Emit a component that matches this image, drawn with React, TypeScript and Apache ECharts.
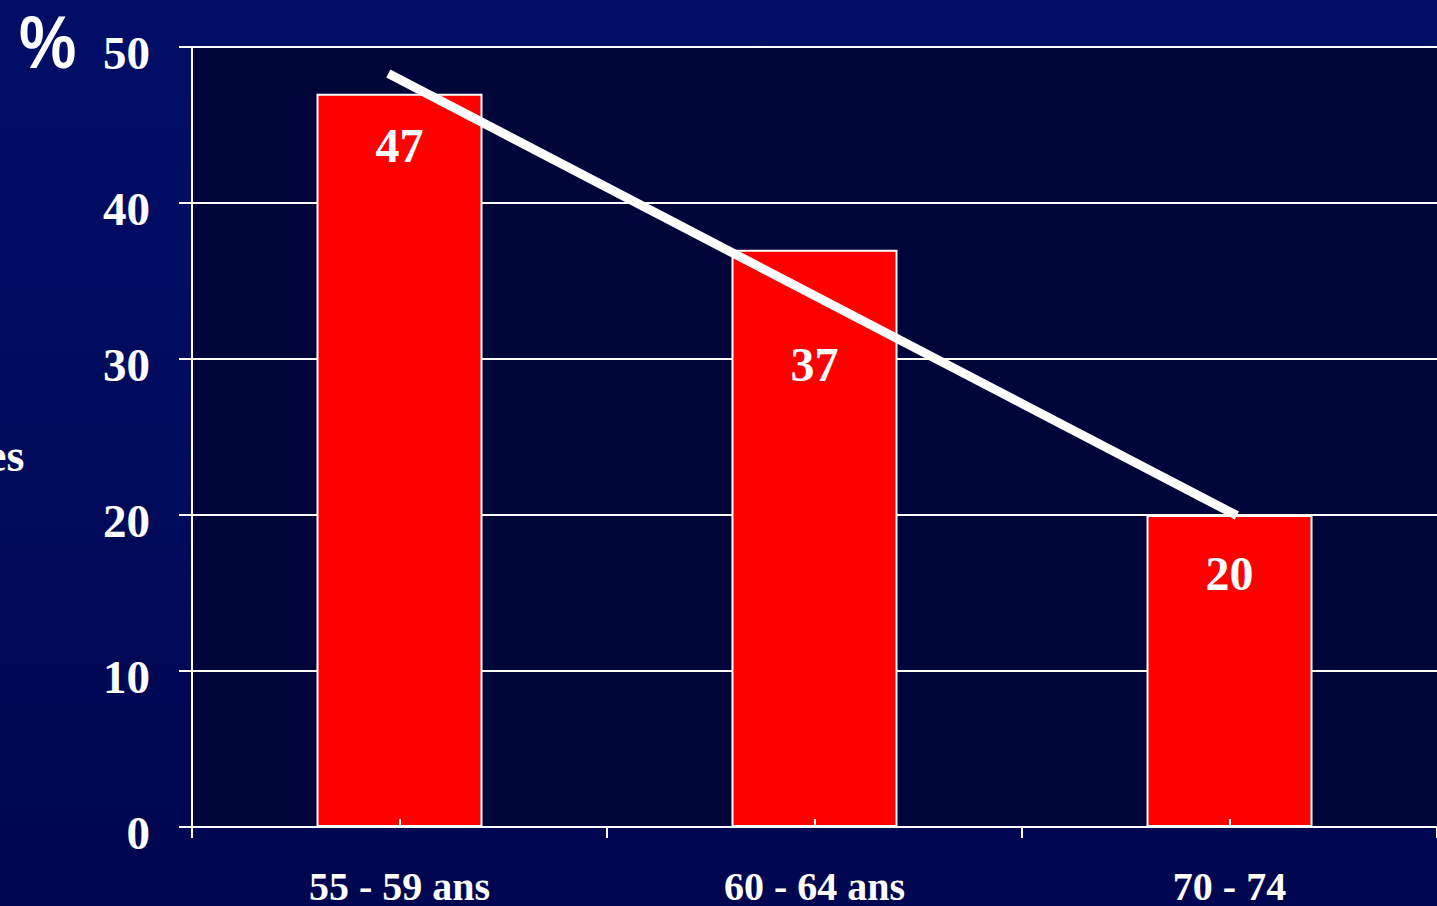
import React, { useEffect, useRef } from "react";
import * as echarts from "echarts";

// Age groups and share (%) per group
const categories = ["55 - 59 ans", "60 - 64 ans", "70 - 74"];
const values = [47, 37, 20];
// Distance of each value label below the bar top (px)
const labelOffsets = [52, 115, 58];
// Trend line end points [category position, %]
const trendPoints: [number, number][] = [
  [-0.027, 48.3],
  [2.018, 20.0],
];
const yTicks = { min: 0, max: 50, interval: 10 };

const SERIF = "'Liberation Serif', 'Times New Roman', serif";
const PLOT = { left: 192, top: 47, width: 1246, height: 781 };

export default function App() {
  const ref = useRef<HTMLDivElement>(null);

  useEffect(() => {
    if (!ref.current) return;
    const chart = echarts.init(ref.current, null, { renderer: "svg" });
    chart.setOption({
      animation: false,
      backgroundColor: "transparent",
      grid: [
        {
          ...PLOT,
          show: true,
          backgroundColor: "#000539",
          borderWidth: 0,
        },
        // overlay grid: centre ticks and the trend line
        { ...PLOT, show: false },
      ],
      graphic: [
        {
          type: "text",
          x: 19,
          y: 42,
          scaleX: 0.86,
          style: {
            text: "%",
            fill: "#ffffff",
            font: "bold 75px 'Liberation Sans', Arial, sans-serif",
            align: "left",
            verticalAlign: "middle",
          },
        },
        {
          type: "text",
          x: -14,
          y: 455,
          style: {
            text: "es",
            fill: "#ffffff",
            font: `bold 46px ${SERIF}`,
            align: "left",
            verticalAlign: "middle",
          },
        },
      ],
      xAxis: [
        {
          type: "category",
          gridIndex: 0,
          data: categories,
          position: "bottom",
          axisLine: { lineStyle: { color: "#ffffff", width: 2 } },
          axisTick: {
            show: true,
            alignWithLabel: false,
            length: 11,
            lineStyle: { color: "#ffffff", width: 2 },
          },
          axisLabel: {
            color: "#ffffff",
            fontFamily: SERIF,
            fontWeight: "bold",
            fontSize: 40,
            lineHeight: 36,
            margin: 41,
          },
          splitLine: { show: false },
        },
        {
          type: "category",
          gridIndex: 1,
          data: categories,
          position: "bottom",
          axisLine: { show: false },
          axisTick: {
            show: true,
            inside: true,
            alignWithLabel: true,
            length: 9,
            lineStyle: { color: "#ffffff", width: 2 },
          },
          axisLabel: { show: false },
          splitLine: { show: false },
          z: 5,
        },
        {
          type: "value",
          gridIndex: 1,
          min: -0.5,
          max: 2.5,
          show: false,
        },
      ],
      yAxis: [
        {
          type: "value",
          gridIndex: 0,
          min: yTicks.min,
          max: yTicks.max,
          interval: yTicks.interval,
          axisLine: { show: true, lineStyle: { color: "#ffffff", width: 2 } },
          axisTick: {
            show: true,
            length: 13,
            lineStyle: { color: "#ffffff", width: 2 },
          },
          axisLabel: {
            color: "#ffffff",
            fontFamily: SERIF,
            fontWeight: "bold",
            fontSize: 47,
            margin: 42,
            verticalAlign: "top",
            lineHeight: 12,
          },
          splitLine: { show: true, lineStyle: { color: "#ffffff", width: 2 } },
        },
        {
          type: "value",
          gridIndex: 1,
          min: yTicks.min,
          max: yTicks.max,
          interval: yTicks.interval,
          show: false,
        },
      ],
      series: [
        {
          type: "bar",
          xAxisIndex: 0,
          yAxisIndex: 0,
          data: values.map((v, i) => ({
            value: v,
            label: {
              show: true,
              position: ["50%", labelOffsets[i]],
              align: "center",
              verticalAlign: "middle",
              color: "#ffffff",
              fontFamily: SERIF,
              fontWeight: "bold",
              fontSize: 48,
              formatter: "{c}",
            },
          })),
          barWidth: 166,
          itemStyle: { color: "#ff0000", borderColor: "#ffffff", borderWidth: 2 },
          z: 2,
        },
        {
          type: "line",
          xAxisIndex: 2,
          yAxisIndex: 1,
          data: trendPoints,
          showSymbol: false,
          symbol: "none",
          lineStyle: { color: "#ffffff", width: 9, cap: "butt" },
          z: 10,
        },
      ],
    });
    return () => chart.dispose();
  }, []);

  return (
    <div
      style={{
        position: "absolute",
        left: 0,
        top: 0,
        width: 1437,
        height: 906,
        overflow: "hidden",
        background: "linear-gradient(180deg, #000e68 0%, #000b5c 50%, #00064f 100%)",
      }}
    >
      <div ref={ref} style={{ width: 1437, height: 906 }} />
    </div>
  );
}
